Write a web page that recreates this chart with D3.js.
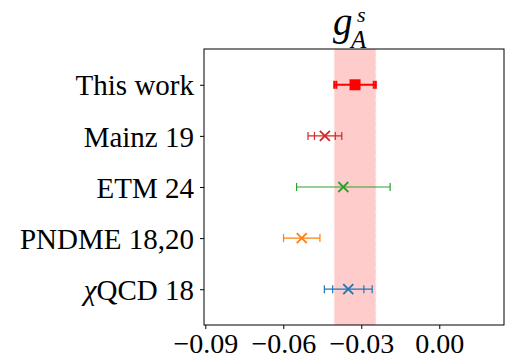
<!DOCTYPE html>
<html>
<head>
<meta charset="utf-8">
<script src="https://cdn.jsdelivr.net/npm/d3@7"></script>
<style>
  body { margin: 0; background: #fff; }
  svg text { font-family: "Liberation Serif", "DejaVu Serif", serif; fill: #000; }
</style>
</head>
<body>
<svg id="chart" width="505" height="360"></svg>
<script>
// Results for the strange axial charge, top row first
const labels = ["This work", "Mainz 19", "ETM 24", "PNDME 18,20", "χQCD 18"];
const centers = [-0.0324, -0.0440, -0.0369, -0.0529, -0.0350];
const statErr = [0.0072, 0.0040, null, null, 0.0060];
const totalErr = [0.0080, 0.0065, 0.0180, 0.0070, 0.0092];
const colors = ["#ff0000", "#d62728", "#2ca02c", "#ff7f0e", "#1f77b4"];
const markers = ["square", "x", "x", "x", "x"];
const xTicks = [-0.09, -0.06, -0.03, 0.00];
const bandCenter = -0.0324;
const bandHalf = 0.0080;

const svg = d3.select("#chart");
const m = { left: 204, right: 504, top: 49, bottom: 325 };

const x = d3.scaleLinear().domain([-0.0905, 0.0249]).range([m.left, m.right]);
// row index 0 at top
const y = d3.scaleLinear().domain([-0.7, 4.7]).range([m.top, m.bottom]);

// shaded band for this work's result
const bx0 = x(bandCenter - bandHalf), bx1 = x(bandCenter + bandHalf);
svg.append("rect")
  .attr("x", bx0).attr("y", m.top)
  .attr("width", bx1 - bx0).attr("height", m.bottom - m.top)
  .attr("fill", "#ffcccc");
[bx0, bx1].forEach(bx => {
  svg.append("line")
    .attr("x1", bx).attr("x2", bx).attr("y1", m.top).attr("y2", m.bottom)
    .attr("stroke", "#ffe6e6").attr("stroke-width", 1)
    .attr("stroke-dasharray", "4,3");
});

// error bars and markers
const rows = labels.map((l, i) => ({ l, i, c: centers[i], s: statErr[i], t: totalErr[i], col: colors[i], mk: markers[i] }));
rows.forEach(d => {
  const g = svg.append("g");
  const yy = y(d.i);
  const lw = d.i === 0 ? 2 : 1.2;
  g.append("line")
    .attr("x1", x(d.c - d.t)).attr("x2", x(d.c + d.t))
    .attr("y1", yy).attr("y2", yy)
    .attr("stroke", d.col).attr("stroke-width", lw);
  const caps = [d.c - d.t, d.c + d.t];
  if (d.s != null) caps.push(d.c - d.s, d.c + d.s);
  caps.forEach(v => {
    g.append("line")
      .attr("x1", x(v)).attr("x2", x(v))
      .attr("y1", yy - 4).attr("y2", yy + 4)
      .attr("stroke", d.col).attr("stroke-width", lw);
  });
  if (d.mk === "square") {
    g.append("rect")
      .attr("x", x(d.c) - 5.5).attr("y", yy - 5.5)
      .attr("width", 11).attr("height", 11)
      .attr("fill", d.col);
  } else {
    const r = 5;
    g.append("path")
      .attr("d", `M${x(d.c) - r},${yy - r}L${x(d.c) + r},${yy + r}M${x(d.c) - r},${yy + r}L${x(d.c) + r},${yy - r}`)
      .attr("stroke", d.col).attr("stroke-width", 1.8).attr("fill", "none");
  }
});

// frame
svg.append("rect")
  .attr("x", m.left).attr("y", m.top)
  .attr("width", m.right - m.left).attr("height", m.bottom - m.top)
  .attr("fill", "none").attr("stroke", "#000").attr("stroke-width", 1);

// x axis
const fmt = v => (v < 0 ? "\u2212" : "") + Math.abs(v).toFixed(2);
const xAxis = d3.axisBottom(x).tickValues(xTicks).tickFormat(fmt).tickSize(4).tickPadding(4);
const gx = svg.append("g").attr("transform", `translate(0,${m.bottom})`).call(xAxis);
gx.select(".domain").remove();
gx.selectAll("text").attr("font-size", 28).attr("dy", "0.72em")
  .style("font-family", "'Liberation Serif', serif");
gx.selectAll("line").attr("stroke", "#000");

// y axis with row labels
const yAxis = d3.axisLeft(y).tickValues(d3.range(labels.length)).tickFormat(i => labels[i]).tickSize(4).tickPadding(6);
const gy = svg.append("g").attr("transform", `translate(${m.left},0)`).call(yAxis);
gy.select(".domain").remove();
gy.selectAll("text").attr("font-size", 29).attr("dy", "0.35em")
  .style("font-family", "'Liberation Serif', serif");
gy.selectAll("line").attr("stroke", "#000");
gy.selectAll("text").filter(i => i === 4).each(function () {
  const t = d3.select(this);
  t.text(null);
  t.append("tspan").attr("font-style", "italic").text("χ");
  t.append("tspan").text("QCD 18");
});

// title: g_A^s
const title = svg.append("text").attr("x", 333).attr("y", 35).attr("font-size", 39);
title.append("tspan").attr("font-style", "italic").text("g");
title.append("tspan").attr("font-style", "italic").attr("font-size", 22).attr("x", 357).attr("y", 22).text("s");
title.append("tspan").attr("font-style", "italic").attr("font-size", 25).attr("x", 351).attr("y", 48).text("A");
</script>
</body>
</html>
